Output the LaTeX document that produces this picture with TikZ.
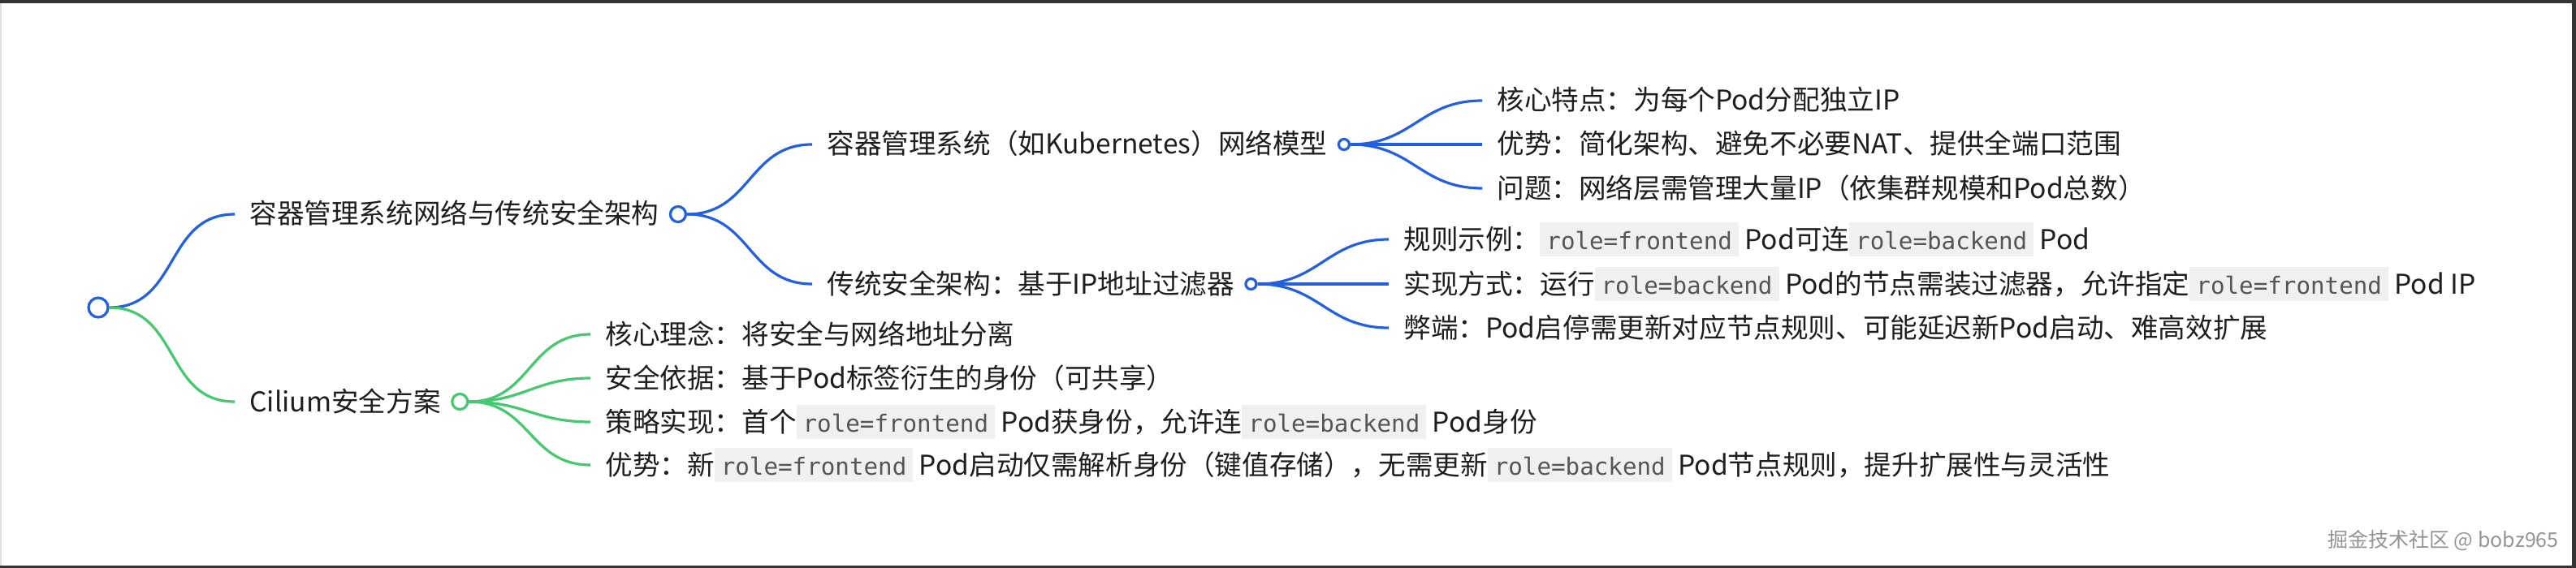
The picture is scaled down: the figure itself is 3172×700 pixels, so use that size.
\documentclass[tikz,border=0pt]{standalone}
\usepackage{fontspec}
\setmainfont{Noto Sans CJK SC}
\newfontfamily\codefont{DejaVu Sans Mono}
\usetikzlibrary{positioning}

\definecolor{mmblue}{RGB}{35,95,225}
\definecolor{mmgreen}{RGB}{70,200,110}
\definecolor{codebg}{RGB}{240,240,240}
\definecolor{codefg}{RGB}{85,85,85}
\definecolor{ink}{RGB}{30,30,30}
\definecolor{frame}{RGB}{52,52,52}

% inline code in grey box
\newcommand\pill[1]{{\setlength\fboxsep{0pt}\colorbox{codebg}{\rule[-4.5pt]{0pt}{21pt}\hspace{4pt}{\codefont\fontsize{14.6pt}{16pt}\selectfont\color{codefg}#1}\hspace{4pt}}}}

\tikzset{
  topic/.style={anchor=west, inner xsep=9pt, inner ysep=0pt, text height=16.5pt, text depth=4.5pt,
    font=\fontsize{16.8pt}{20pt}\selectfont, text=ink},
  knob/.style={circle, draw, fill=white, line width=1.6pt, inner sep=0pt, minimum size=#1},
  link/.style={line width=1.6pt, out=0, in=180, looseness=1.15},
}

\begin{document}
\begin{tikzpicture}[x=0.5pt, y=-0.5pt]
  % screenshot frame
  \fill[frame] (0,0) rectangle (3172,700);
  \fill[white] (0,4) rectangle (3167,697);
  \draw[black!12, line width=1pt] (1,4) -- (1,697);
  \useasboundingbox (0,0) rectangle (3172,700);

  \node[knob=12pt, draw=mmblue] (root) at (121,379) {};

  % first branch
  \node[topic] (net) at (289,264) {容器管理系统网络与传统安全架构};
  \node[knob=9.5pt, draw=mmblue, right=-3pt of net] (netc) {};
  \node[topic] (k8s) at (1000,178) {容器管理系统（如Kubernetes）网络模型};
  \node[knob=6.5pt, draw=mmblue, right=-3pt of k8s] (k8sc) {};
  \node[topic] (trad) at (1000,350) {传统安全架构：基于IP地址过滤器};
  \node[knob=6.5pt, draw=mmblue, right=-3pt of trad] (tradc) {};

  \node[topic] (k1) at (1825,124) {核心特点：为每个Pod分配独立IP};
  \node[topic] (k2) at (1825,178) {优势：简化架构、避免不必要NAT、提供全端口范围};
  \node[topic] (k3) at (1825,232) {问题：网络层需管理大量IP（依集群规模和Pod总数）};

  \node[topic] (t1) at (1710,295) {规则示例：\pill{role=frontend} Pod可连\pill{role=backend} Pod};
  \node[topic] (t2) at (1710,350) {实现方式：运行\pill{role=backend} Pod的节点需装过滤器，允许指定\pill{role=frontend} Pod IP};
  \node[topic] (t3) at (1710,404) {弊端：Pod启停需更新对应节点规则、可能延迟新Pod启动、难高效扩展};

  % second branch
  \node[topic] (cil) at (289,495) {Cilium安全方案};
  \node[knob=9.5pt, draw=mmgreen, right=-3pt of cil] (cilc) {};
  \node[topic] (c1) at (727,412) {核心理念：将安全与网络地址分离};
  \node[topic] (c2) at (727,466) {安全依据：基于Pod标签衍生的身份（可共享）};
  \node[topic] (c3) at (727,520) {策略实现：首个\pill{role=frontend} Pod获身份，允许连\pill{role=backend} Pod身份};
  \node[topic] (c4) at (727,573) {优势：新\pill{role=frontend} Pod启动仅需解析身份（键值存储），无需更新\pill{role=backend} Pod节点规则，提升扩展性与灵活性};

  \draw[link, mmblue] (root.east) to (net.west);
  \draw[link, mmgreen] (root.east) to (cil.west);
  \draw[link, mmblue] (netc.east) to (k8s.west);
  \draw[link, mmblue] (netc.east) to (trad.west);
  \foreach \k in {k1,k2,k3}
    \draw[link, mmblue] (k8sc.east) to (\k.west);
  \foreach \t in {t1,t2,t3}
    \draw[link, mmblue] (tradc.east) to (\t.west);
  \foreach \c in {c1,c2,c3,c4}
    \draw[link, mmgreen] (cilc.east) to (\c.west);

  \node[anchor=east, inner sep=0pt, text=black!42, font=\fontsize{12.5pt}{15pt}\selectfont] (mark) at (3151,666) {掘金技术社区 @ bobz965};
\end{tikzpicture}
\end{document}
